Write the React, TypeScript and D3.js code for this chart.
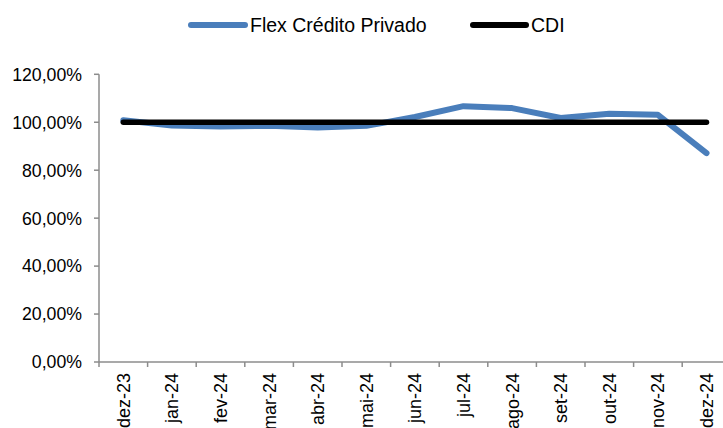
import React from "react";
import * as d3 from "d3";

const categories = ["dez-23", "jan-24", "fev-24", "mar-24", "abr-24", "mai-24", "jun-24", "jul-24", "ago-24", "set-24", "out-24", "nov-24", "dez-24"];
const flexValues = [100.8, 98.6, 98.2, 98.5, 97.8, 98.5, 102.2, 106.7, 105.9, 101.8, 103.5, 103.1, 87.1];
const cdiValues = [100, 100, 100, 100, 100, 100, 100, 100, 100, 100, 100, 100, 100];
const yTicks = [0, 20, 40, 60, 80, 100, 120];
const seriesNames = ["Flex Crédito Privado", "CDI"];

const W = 723;
const H = 428;
const left = 99;
const top = 74.3;
const bottom = 362;
const bandW = 48.6;
const FONT = "'Liberation Sans', Arial, sans-serif";
const BLUE = "#4a7ebb";
const AXIS = "#8c8c8c";

export default function App() {
  const x = d3
    .scaleBand<string>()
    .domain(categories)
    .range([left, left + bandW * categories.length])
    .paddingInner(0)
    .paddingOuter(0);
  const y = d3.scaleLinear().domain([0, 120]).range([bottom, top]);
  const cx = (c: string) => (x(c) as number) + x.bandwidth() / 2;

  const line = d3
    .line<number>()
    .x((_, i) => cx(categories[i]))
    .y((d) => y(d));

  const fmt = (v: number) => v.toFixed(2).replace(".", ",") + "%";

  return (
    <div style={{ position: "fixed", left: 0, top: 0, width: W, height: H, background: "#fff" }}>
      <svg width={W} height={H} style={{ display: "block", fontFamily: FONT }}>
        <rect x={0} y={0} width={W} height={H} fill="#fff" />
        {/* Legend */}
        <g>
          <line x1={191} x2={245} y1={25} y2={25} stroke={BLUE} strokeWidth={6} strokeLinecap="round" />
          <text x={250} y={32} fontSize={19.5} fill="#000">{seriesNames[0]}</text>
          <line x1={473} x2={526} y1={25} y2={25} stroke="#000" strokeWidth={6} strokeLinecap="round" />
          <text x={531} y={32} fontSize={19.5} fill="#000">{seriesNames[1]}</text>
        </g>
        {/* Y axis */}
        <line x1={left} x2={left} y1={top} y2={bottom} stroke={AXIS} strokeWidth={1.5} />
        {yTicks.map((t) => (
          <g key={t}>
            <line x1={left - 5} x2={left} y1={y(t)} y2={y(t)} stroke={AXIS} strokeWidth={1.5} />
            <text x={82} y={y(t)} dy="0.36em" textAnchor="end" fontSize={17.7} fill="#000">
              {fmt(t)}
            </text>
          </g>
        ))}
        {/* X axis */}
        <line x1={left} x2={left + bandW * categories.length} y1={bottom} y2={bottom} stroke={AXIS} strokeWidth={1.5} />
        {categories.map((c) => (
          <line key={"t" + c} x1={x(c) as number} x2={x(c) as number} y1={bottom} y2={bottom + 5} stroke={AXIS} strokeWidth={1.5} />
        ))}
        {categories.map((c) => (
          <text
            key={"l" + c}
            transform={`translate(${cx(c)},${373}) rotate(-90)`}
            dy="0.36em"
            textAnchor="end"
            fontSize={18}
            fill="#000"
          >
            {c}
          </text>
        ))}
        {/* Series */}
        <path d={line(flexValues) || ""} fill="none" stroke={BLUE} strokeWidth={6} strokeLinejoin="round" strokeLinecap="round" />
        <path d={line(cdiValues) || ""} fill="none" stroke="#000" strokeWidth={5.5} strokeLinejoin="round" strokeLinecap="round" />
      </svg>
    </div>
  );
}
